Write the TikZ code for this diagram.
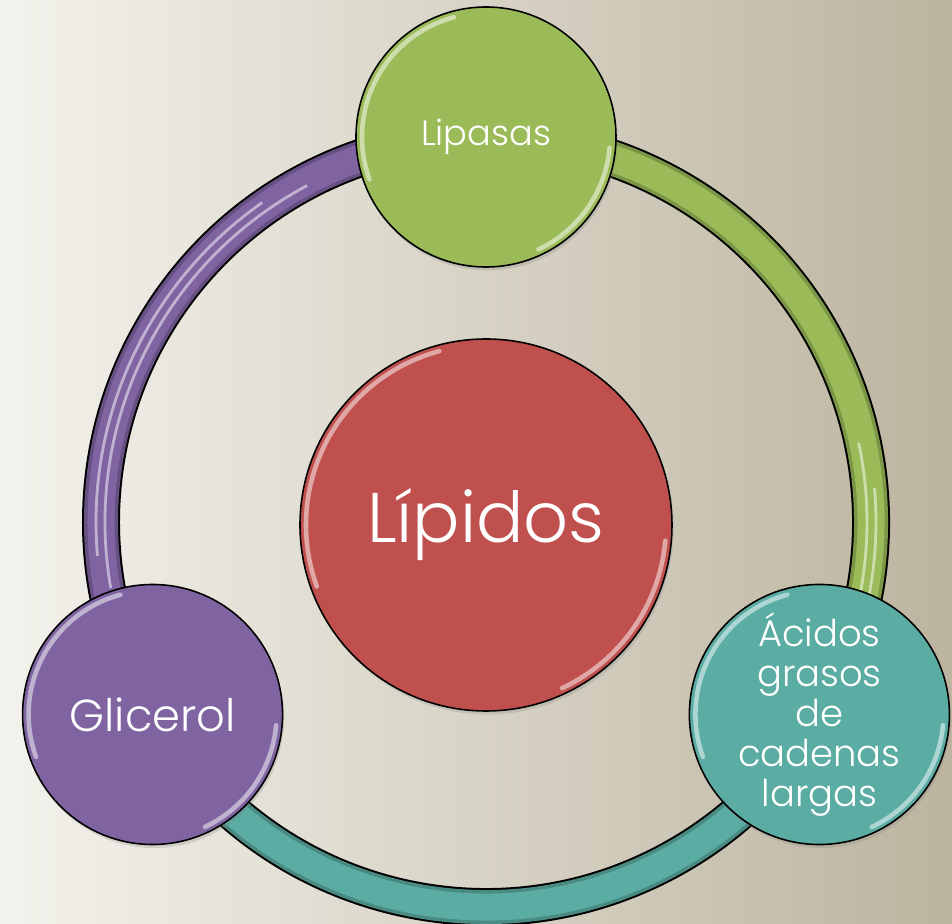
\documentclass[tikz,border=0pt]{standalone}
\usepackage{fontspec}
\setmainfont{Poppins Light}
\usepackage{tikz}
\usetikzlibrary{shadows,backgrounds,calc}
\definecolor{LipidRed}{HTML}{C0504D}
\definecolor{LipaseGreen}{HTML}{9BBB59}
\definecolor{GlycerolPurple}{HTML}{8064A2}
\definecolor{AcidTeal}{HTML}{5BACA3}
\definecolor{PaperLight}{HTML}{F3F2EC}
\definecolor{PaperMid}{HTML}{E3E0D5}
\definecolor{PaperTan}{HTML}{BCB49F}

\begin{document}
\begin{tikzpicture}[
  gloss/.style={
    path picture={
      \draw[white, opacity=.5, line width=2.6pt, line cap=round]
        ([shift={(105:#1)}]path picture bounding box.center)
        arc[start angle=105, end angle=200, radius=#1];
      \draw[white, opacity=.5, line width=2.6pt, line cap=round]
        ([shift={(-5:#1)}]path picture bounding box.center)
        arc[start angle=-5, end angle=-65, radius=#1];
    }
  },
  bubble/.style={
    circle,
    draw=black,
    line width=0.9pt,
    minimum size=5.2cm,
    inner sep=0pt,
    align=center,
    text=white,
    font=\fontsize{20}{21}\selectfont,
    gloss=2.48cm,
    drop shadow={shadow xshift=.03cm, shadow yshift=-.07cm, opacity=.25}
  },
  corebubble/.style={
    bubble,
    fill=LipidRed,
    minimum size=7.44cm,
    font=\fontsize{40}{44}\selectfont,
    gloss=3.6cm
  },
  ringedge/.style={
    draw=black,
    line width=0.76cm
  },
  ringfill/.style={
    draw=#1!80!black,
    line width=0.68cm,
    postaction={draw=#1, line width=0.54cm}
  },
  ringshine/.style={
    draw=white,
    opacity=.5,
    line width=1.6pt
  }
]
\useasboundingbox (-9.72,-7.98) rectangle (9.32,10.5);
\coordinate (hub) at (0,0.06);

% Center
\node[corebubble] (lipidos) at (0,0) {Lípidos};

% Outer bubbles
\node[bubble, fill=LipaseGreen] (lipasas) at ($(hub)+(90:7.7)$) {Lipasas};

\node[bubble, fill=GlycerolPurple,
  font=\fontsize{25.5}{27}\selectfont]
  (glicerol) at ($(hub)+(210:7.7)$) {Glicerol};

\node[bubble, fill=AcidTeal,
  font=\fontsize{21}{22.7}\selectfont]
  (acidos) at ($(hub)+(330:7.7)$) {Ácidos\\grasos\\de\\cadenas\\largas};

% Ring behind the bubbles
\begin{pgfonlayer}{background}
\shade[left color=PaperLight, middle color=PaperMid, right color=PaperTan]
  (-9.72,-7.98) rectangle (9.32,10.5);

\draw[ringedge] (lipasas.center) arc[start angle=90, end angle=210, radius=7.7cm];
\draw[ringfill=GlycerolPurple] (lipasas.center) arc[start angle=90, end angle=210, radius=7.7cm];

\draw[ringedge] (acidos.center) arc[start angle=-30, end angle=90, radius=7.7cm];
\draw[ringfill=LipaseGreen] (acidos.center) arc[start angle=-30, end angle=90, radius=7.7cm];

\draw[ringedge] (glicerol.center) arc[start angle=210, end angle=330, radius=7.7cm];
\draw[ringfill=AcidTeal] (glicerol.center) arc[start angle=210, end angle=330, radius=7.7cm];

% shine on the tube
\draw[ringshine] ($(hub)+(118:7.62)$) arc[start angle=118, end angle=190, radius=7.62cm];
\draw[ringshine] ($(hub)+(125:7.8)$) arc[start angle=125, end angle=185, radius=7.8cm];
\draw[ringshine] ($(hub)+(-25:7.62)$) arc[start angle=-25, end angle=12, radius=7.62cm];
\draw[ringshine] ($(hub)+(-22:7.8)$) arc[start angle=-22, end angle=5, radius=7.8cm];
\draw[ringshine] ($(hub)+(312:7.66)$) arc[start angle=312, end angle=326, radius=7.66cm];
\end{pgfonlayer}

\end{tikzpicture}
\end{document}
